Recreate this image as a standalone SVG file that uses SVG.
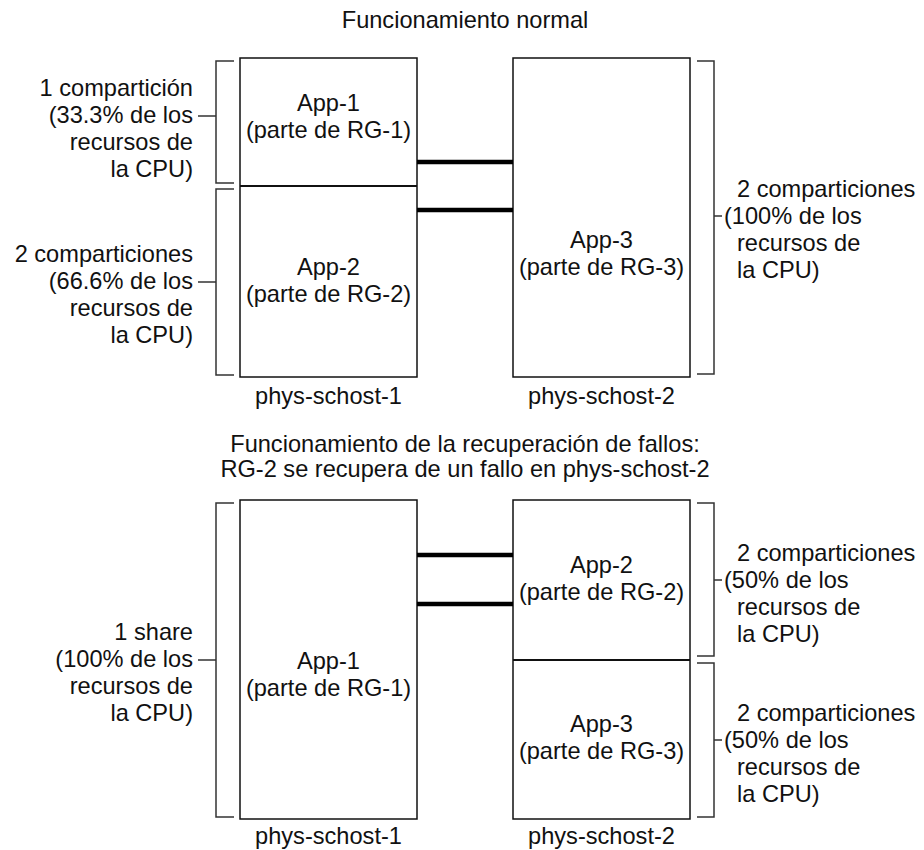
<svg xmlns="http://www.w3.org/2000/svg" width="924" height="850" viewBox="0 0 924 850">
  <style>
    text { font-family: "Liberation Sans", Arial, Helvetica, sans-serif; font-size: 23.6px; fill: #111; }
    .c { text-anchor: middle; }
    .r { text-anchor: end; }
    .box { fill: #fff; stroke: #111; stroke-width: 1.5; }
    .div { stroke: #111; stroke-width: 2.2; fill: none; }
    .link { stroke: #000; stroke-width: 4.5; fill: none; }
    .brk { stroke: #333; stroke-width: 1.5; fill: none; }
  </style>
  <rect width="924" height="850" fill="#fff"/>

  <!-- Normal operation -->
  <text class="c" x="465" y="28">Funcionamiento normal</text>

  <g id="host1-normal">
    <rect class="box" x="240" y="58" width="177" height="319"/>
    <line class="div" x1="240" y1="186" x2="417" y2="186"/>
    <text class="c" x="328.5" y="111">App-1</text>
    <text class="c" x="328.5" y="138">(parte de RG-1)</text>
    <text class="c" x="328.5" y="275">App-2</text>
    <text class="c" x="328.5" y="302">(parte de RG-2)</text>
    <text class="c" x="328.5" y="404">phys-schost-1</text>
  </g>

  <g id="host2-normal">
    <rect class="box" x="513" y="58" width="177" height="319"/>
    <text class="c" x="601.5" y="248">App-3</text>
    <text class="c" x="601.5" y="275">(parte de RG-3)</text>
    <text class="c" x="601.5" y="404">phys-schost-2</text>
  </g>

  <g id="share-app1-normal">
    <path class="brk" d="M234,61 H216 V183 H234 M216,116 H198"/>
    <text class="r" x="193" y="96">1 compartición</text>
    <text class="r" x="193" y="123">(33.3% de los</text>
    <text class="r" x="193" y="150">recursos de</text>
    <text class="r" x="193" y="177">la CPU)</text>
  </g>

  <g id="share-app2-normal">
    <path class="brk" d="M234,189 H216 V375 H234 M216,282 H198"/>
    <text class="r" x="193" y="262">2 comparticiones</text>
    <text class="r" x="193" y="289">(66.6% de los</text>
    <text class="r" x="193" y="316">recursos de</text>
    <text class="r" x="193" y="343">la CPU)</text>
  </g>

  <g id="share-app3-normal">
    <path class="brk" d="M697,61 H714 V374 H697 M714,216 H722"/>
    <text x="737" y="197">2 comparticiones</text>
    <text x="724" y="224">(100% de los</text>
    <text x="737" y="251">recursos de</text>
    <text x="737" y="278">la CPU)</text>
  </g>

  <!-- Failover operation -->
  <text class="c" x="465" y="452">Funcionamiento de la recuperación de fallos:</text>
  <text class="c" x="465" y="477">RG-2 se recupera de un fallo en phys-schost-2</text>

  <g id="host1-failover">
    <rect class="box" x="240" y="500" width="177" height="319"/>
    <text class="c" x="328.5" y="669">App-1</text>
    <text class="c" x="328.5" y="696">(parte de RG-1)</text>
    <text class="c" x="328.5" y="844">phys-schost-1</text>
  </g>

  <g id="host2-failover">
    <rect class="box" x="513" y="500" width="177" height="319"/>
    <line class="div" x1="513" y1="660" x2="690" y2="660"/>
    <text class="c" x="601.5" y="573">App-2</text>
    <text class="c" x="601.5" y="600">(parte de RG-2)</text>
    <text class="c" x="601.5" y="732">App-3</text>
    <text class="c" x="601.5" y="759">(parte de RG-3)</text>
    <text class="c" x="601.5" y="844">phys-schost-2</text>
  </g>

  <g id="share-app1-failover">
    <path class="brk" d="M234,503 H216 V817 H234 M216,660 H198"/>
    <text class="r" x="193" y="640">1 share</text>
    <text class="r" x="193" y="667">(100% de los</text>
    <text class="r" x="193" y="694">recursos de</text>
    <text class="r" x="193" y="721">la CPU)</text>
  </g>

  <g id="share-app2-failover">
    <path class="brk" d="M697,503 H714 V656 H697 M714,580 H722"/>
    <text x="737" y="561">2 comparticiones</text>
    <text x="724" y="588">(50% de los</text>
    <text x="737" y="615">recursos de</text>
    <text x="737" y="642">la CPU)</text>
  </g>

  <g id="share-app3-failover">
    <path class="brk" d="M697,663 H714 V817 H697 M714,740 H722"/>
    <text x="737" y="721">2 comparticiones</text>
    <text x="724" y="748">(50% de los</text>
    <text x="737" y="775">recursos de</text>
    <text x="737" y="802">la CPU)</text>
  </g>

  <!-- Interconnect links between the two hosts -->
  <g id="connectors">
    <line class="link" x1="417" y1="162" x2="513" y2="162"/>
    <line class="link" x1="417" y1="210" x2="513" y2="210"/>
    <line class="link" x1="417" y1="555" x2="513" y2="555"/>
    <line class="link" x1="417" y1="604" x2="513" y2="604"/>
  </g>
</svg>
